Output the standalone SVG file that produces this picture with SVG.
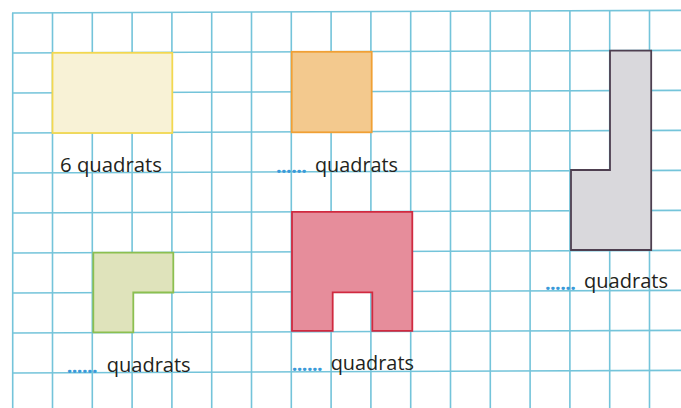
<svg xmlns="http://www.w3.org/2000/svg" width="681" height="408" viewBox="0 0 681 408">
<style>
.g{stroke:#74c4da;stroke-width:1.6;fill:none}
.t{font-family:"Open Sans","Liberation Sans",sans-serif;font-size:19.5px;fill:#231f20}
.d{font-family:"Open Sans","Liberation Sans",sans-serif;font-size:20px;font-weight:bold;fill:#3a9ad9}
</style>
<rect width="681" height="408" fill="#ffffff"/>
<g id="grid">
<path class="g" d="M12.7 13V408M52.5 12.8V408M92.3 12.7V408M132.1 12.5V408M171.9 12.4V408M211.7 12.2V408M251.5 12.1V408M291.3 11.9V408M331.1 11.8V408M370.9 11.6V408M410.7 11.5V408M450.5 11.3V408M490.3 11.2V408M530.1 11V408M569.9 10.8V408M609.7 10.7V408M649.5 10.5V408"/>
<path class="g" d="M12 13L681 10.4M12 53L681 50.4M12 93L681 90.4M12 133L681 130.4M12 173L681 170.4M12 213L681 210.4M12 253L681 250.4M12 293L681 290.4M12 333L681 330.4M12 373L681 370.4"/>
</g>
<g id="connectors"></g>
<g id="yellow">
<rect x="52.5" y="52.8" width="119.8" height="80.2" fill="#f8f2d6" stroke="#f2d850" stroke-width="1.8"/>
<text class="t" x="60" y="171.5" textLength="102" lengthAdjust="spacingAndGlyphs">6 quadrats</text>
</g>
<g id="orange">
<rect x="291.7" y="51.8" width="80" height="80.5" fill="#f3c98e" stroke="#f0a035" stroke-width="1.8"/>
<text class="d" x="276" y="172.5" textLength="31" lengthAdjust="spacing">......</text>
<text class="t" x="315" y="171.5" textLength="83" lengthAdjust="spacingAndGlyphs">quadrats</text>
</g>
<g id="gray">
<polygon points="610,50.7 651.2,50.7 651.2,250 571,250 571,170 610,170" fill="#d9d8dc" stroke="#4e3f50" stroke-width="1.8"/>
<text class="d" x="545" y="289.5" textLength="31" lengthAdjust="spacing">......</text>
<text class="t" x="584" y="288" textLength="84" lengthAdjust="spacingAndGlyphs">quadrats</text>
</g>
<g id="green">
<polygon points="93.3,252.7 173.3,252.7 173.3,292.5 133.3,292.5 133.3,332.4 93.3,332.4" fill="#dfe3bb" stroke="#8cbf50" stroke-width="1.8"/>
<text class="d" x="66.7" y="372.5" textLength="31" lengthAdjust="spacing">......</text>
<text class="t" x="106.7" y="371.5" textLength="84" lengthAdjust="spacingAndGlyphs">quadrats</text>
</g>
<g id="red">
<polygon points="292,211.8 412.3,211.8 412.3,330.8 372.3,330.8 372.3,292.3 332.7,292.3 332.7,330.8 292,330.8" fill="#e68d9b" stroke="#d02a40" stroke-width="1.8"/>
<text class="d" x="291.7" y="370.5" textLength="31" lengthAdjust="spacing">......</text>
<text class="t" x="330.7" y="369.5" textLength="83.3" lengthAdjust="spacingAndGlyphs">quadrats</text>
</g>
</svg>
